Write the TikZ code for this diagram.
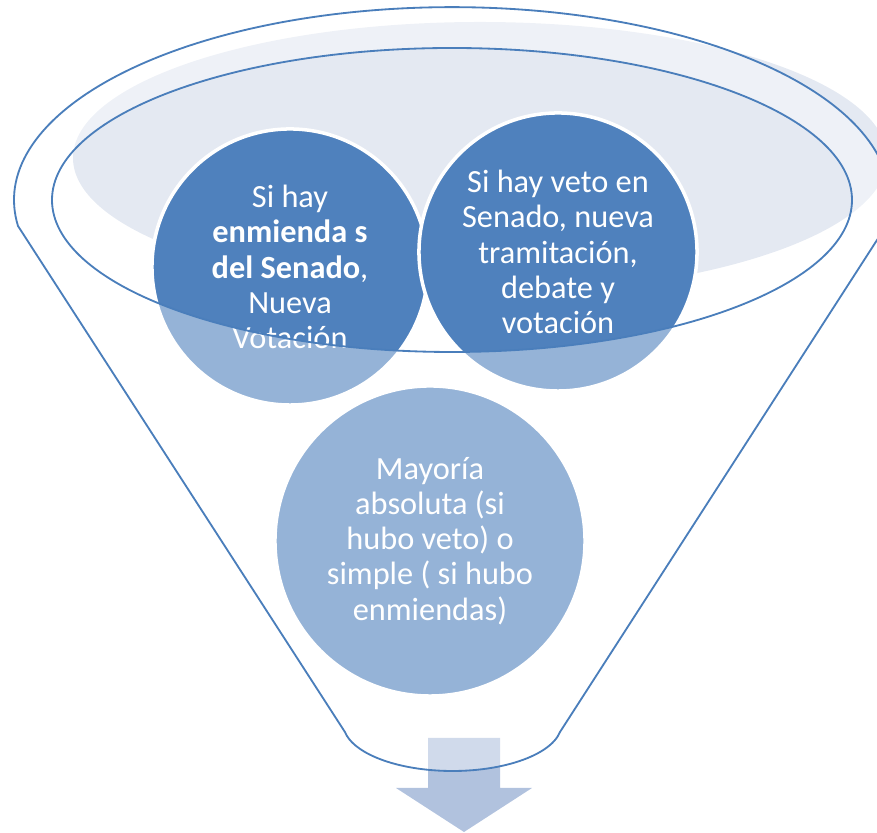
\documentclass[tikz,border=0pt]{standalone}
\usepackage{fontspec}
\setmainfont{Carlito}
\usetikzlibrary{calc}
\definecolor{Bcol}{HTML}{4F81BD}  % bubbles
\definecolor{Lcol}{HTML}{4A7EBB}  % funnel outline
\definecolor{Mcol}{HTML}{E4E9F2}  % funnel mouth
\definecolor{Acol}{HTML}{B1C2DE}  % arrow
\tikzset{
  bubble/.style={circle,fill=Bcol,draw=white,line width=2.5pt,text=white,
    align=center,inner sep=0pt,font=\fontsize{23}{25}\selectfont},
  rim/.style={draw=Lcol,line width=1.3pt},
}

\begin{document}
\begin{tikzpicture}[x=0.025cm,y=0.025cm]
  \def\Rx{438}  % outer rim, x radius
  \def\Ry{193}  % outer rim, y radius
  \def\rx{400}  % inner rim, x radius
  \def\ry{152}  % inner rim, y radius
  \def\ang{7.7} % where the sides leave the rim
  \useasboundingbox (0,0) rectangle (877,833);
  \clip (0,0) rectangle (877,833);
  \coordinate (C) at (452,633);   % rim centre
  \coordinate (L) at (18,607);    % left kink
  \coordinate (BR) at (560,101);  % bottom right kink
  \coordinate (BL) at (345,101);  % bottom left kink

  % inside of the mouth
  \fill[Mcol] (480,675) ellipse[x radius=407,y radius=136];

  \node[bubble,minimum size=6.9cm] (amend) at (290,566)
    {Si hay\\ \textbf{enmienda s}\\ \textbf{del Senado},\\ Nueva\\ Votación};
  \node[bubble,minimum size=6.95cm] (veto) at (558,581)
    {Si hay veto en\\ Senado, nueva\\ tramitación,\\ debate y\\ votación};
  \node[bubble,minimum size=7.75cm] (vote) at (430,292)
    {Mayoría\\ absoluta (si\\ hubo veto) o\\ simple ( si hubo\\ enmiendas)};

  % arrow out of the spout
  \fill[Acol] (428,95) -- (500,95) -- (500,45) -- (532,45) -- (464,1)
    -- (396,45) -- (428,45) -- cycle;

  % front of the funnel, pale glass
  \fill[white,fill opacity=0.4,even odd rule]
    (L) arc[start angle=180+\ang,end angle=-\ang,x radius=\Rx,y radius=\Ry]
    -- (BR) arc[start angle=-10,end angle=-170,x radius=109.2,y radius=47.2]
    -- cycle
    (C) ellipse[x radius=\rx,y radius=\ry];

  \draw[rim] (L) arc[start angle=180+\ang,end angle=-\ang,x radius=\Rx,y radius=\Ry]
    -- (BR) arc[start angle=-10,end angle=-170,x radius=109.2,y radius=47.2]
    -- cycle;
  \draw[rim] (C) ellipse[x radius=\rx,y radius=\ry];
\end{tikzpicture}
\end{document}
